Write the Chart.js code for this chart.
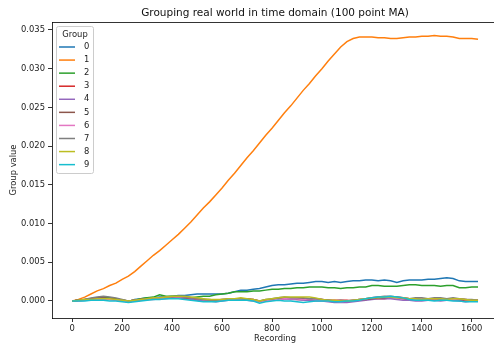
<!DOCTYPE html>
<html>
<head>
<meta charset="utf-8">
<script src="https://cdn.jsdelivr.net/npm/chart.js@4.4.1/dist/chart.umd.min.js"></script>
<style>
  html, body { margin: 0; padding: 0; overflow: hidden; background: #fff; }
  #wrap { width: 512px; height: 347px; }
</style>
</head>
<body>
<div id="wrap"><canvas id="chart" width="512" height="347"></canvas></div>
<script>
// x positions (recording index), sampled every 25
var recording = [
  0, 25, 50, 75, 100, 125, 150, 175, 200, 225, 250,
  275, 300, 325, 350, 375, 400, 425, 450, 475, 500, 525,
  550, 575, 600, 625, 650, 675, 700, 725, 750, 775, 800,
  825, 850, 875, 900, 925, 950, 975, 1000, 1025, 1050, 1075,
  1100, 1125, 1150, 1175, 1200, 1225, 1250, 1275, 1300, 1325, 1350,
  1375, 1400, 1425, 1450, 1475, 1500, 1525, 1550, 1575, 1600, 1625
];

var groupLabels = ['0', '1', '2', '3', '4', '5', '6', '7', '8', '9'];
var groupColors = ['#1f77b4', '#ff7f0e', '#2ca02c', '#d62728', '#9467bd', '#8c564b', '#e377c2', '#7f7f7f', '#bcbd22', '#17becf'];

var g0 = [
  0, 0.0001, 0.0001, 0.0002, 0.0003, 0.0004, 0.0003, 0.0002, 0.0001, -0.0001, 0.0002,
  0.0003, 0.0004, 0.0004, 0.0005, 0.0005, 0.0006, 0.0007, 0.0007, 0.0008, 0.0009, 0.0009,
  0.0009, 0.0009, 0.0009, 0.0010, 0.0012, 0.0014, 0.0014, 0.0015, 0.0016, 0.0018, 0.0020,
  0.0021, 0.0021, 0.0022, 0.0023, 0.0023, 0.0024, 0.0025, 0.0025, 0.0024, 0.0025, 0.0024,
  0.0025, 0.0026, 0.0026, 0.0027, 0.0027, 0.0026, 0.0027, 0.0026, 0.0024, 0.0026, 0.0027,
  0.0027, 0.0027, 0.0028, 0.0028, 0.0029, 0.0030, 0.0029, 0.0026, 0.0025, 0.0025, 0.0025
];
var g1 = [
  0, 0.0002, 0.0005, 0.0009, 0.0013, 0.0016, 0.0020, 0.0023, 0.0028, 0.0032, 0.0038,
  0.0045, 0.0052, 0.0059, 0.0065, 0.0072, 0.0079, 0.0086, 0.0094, 0.0102, 0.0111, 0.0120,
  0.0128, 0.0137, 0.0146, 0.0156, 0.0165, 0.0175, 0.0185, 0.0194, 0.0204, 0.0214, 0.0223,
  0.0233, 0.0243, 0.0252, 0.0262, 0.0272, 0.0281, 0.0291, 0.0300, 0.0310, 0.0319, 0.0328,
  0.0335, 0.0339, 0.0341, 0.0341, 0.0341, 0.0340, 0.0340, 0.0339, 0.0339, 0.0340, 0.0341,
  0.0341, 0.0342, 0.0342, 0.0343, 0.0342, 0.0342, 0.0341, 0.0339, 0.0339, 0.0339, 0.0338
];
var g2 = [
  0, 0.0001, 0.0002, 0.0003, 0.0004, 0.0005, 0.0004, 0.0003, 0.0001, 0.0000, 0.0001,
  0.0003, 0.0004, 0.0005, 0.0008, 0.0006, 0.0006, 0.0006, 0.0005, 0.0004, 0.0005, 0.0006,
  0.0006, 0.0008, 0.0009, 0.0010, 0.0012, 0.0012, 0.0012, 0.0013, 0.0013, 0.0014, 0.0015,
  0.0015, 0.0016, 0.0016, 0.0017, 0.0017, 0.0018, 0.0018, 0.0018, 0.0017, 0.0017, 0.0016,
  0.0017, 0.0017, 0.0018, 0.0018, 0.0020, 0.0020, 0.0019, 0.0019, 0.0019, 0.0020, 0.0021,
  0.0021, 0.0020, 0.0020, 0.0020, 0.0019, 0.0020, 0.0020, 0.0017, 0.0017, 0.0018, 0.0018
];
var g3 = [
  0, 0.0001, 0.0001, 0.0002, 0.0003, 0.0003, 0.0003, 0.0002, 0.0001, 0.0000, 0.0001,
  0.0002, 0.0002, 0.0003, 0.0004, 0.0004, 0.0004, 0.0005, 0.0004, 0.0003, 0.0002, 0.0002,
  0.0001, 0.0001, 0.0001, 0.0002, 0.0003, 0.0003, 0.0003, 0.0002, 0.0000, 0.0001, 0.0002,
  0.0002, 0.0003, 0.0003, 0.0002, 0.0002, 0.0002, 0.0002, 0.0002, 0.0001, 0.0001, 0.0001,
  0.0001, 0.0000, 0.0001, 0.0002, 0.0003, 0.0003, 0.0003, 0.0004, 0.0004, 0.0003, 0.0002,
  0.0002, 0.0002, 0.0002, 0.0001, 0.0001, 0.0002, 0.0002, 0.0001, 0.0000, 0.0000, 0.0001
];
var g4 = [
  0, 0.0000, 0.0001, 0.0001, 0.0002, 0.0003, 0.0002, 0.0001, 0.0000, -0.0001, 0.0000,
  0.0001, 0.0002, 0.0002, 0.0003, 0.0003, 0.0004, 0.0004, 0.0003, 0.0002, 0.0001, 0.0000,
  0.0000, -0.0001, 0.0000, 0.0001, 0.0001, 0.0002, 0.0001, 0.0000, -0.0001, 0.0000, 0.0001,
  0.0002, 0.0003, 0.0002, 0.0002, 0.0001, 0.0001, 0.0000, 0.0000, -0.0001, -0.0002, -0.0002,
  -0.0002, -0.0001, 0.0000, 0.0001, 0.0002, 0.0003, 0.0003, 0.0003, 0.0002, 0.0001, 0.0001,
  0.0000, 0.0000, 0.0001, 0.0001, 0.0000, 0.0001, 0.0001, 0.0000, -0.0001, 0.0000, 0.0000
];
var g5 = [
  0, 0.0001, 0.0002, 0.0003, 0.0004, 0.0004, 0.0003, 0.0002, 0.0001, 0.0000, 0.0001,
  0.0002, 0.0003, 0.0003, 0.0004, 0.0004, 0.0005, 0.0005, 0.0004, 0.0004, 0.0003, 0.0002,
  0.0002, 0.0001, 0.0002, 0.0002, 0.0002, 0.0003, 0.0003, 0.0001, 0.0000, 0.0001, 0.0002,
  0.0003, 0.0004, 0.0004, 0.0003, 0.0003, 0.0003, 0.0003, 0.0002, 0.0001, 0.0000, 0.0000,
  0.0000, 0.0001, 0.0002, 0.0002, 0.0003, 0.0004, 0.0004, 0.0005, 0.0005, 0.0004, 0.0003,
  0.0003, 0.0002, 0.0003, 0.0003, 0.0002, 0.0002, 0.0003, 0.0003, 0.0002, 0.0001, 0.0001
];
var g6 = [
  0, 0.0000, 0.0001, 0.0002, 0.0002, 0.0003, 0.0002, 0.0001, 0.0000, -0.0001, 0.0000,
  0.0001, 0.0002, 0.0003, 0.0003, 0.0004, 0.0005, 0.0005, 0.0005, 0.0004, 0.0003, 0.0002,
  0.0001, 0.0000, 0.0001, 0.0002, 0.0002, 0.0002, 0.0001, 0.0001, -0.0001, 0.0000, 0.0001,
  0.0002, 0.0003, 0.0003, 0.0003, 0.0002, 0.0003, 0.0002, 0.0001, 0.0000, 0.0000, -0.0001,
  0.0000, 0.0001, 0.0002, 0.0003, 0.0004, 0.0005, 0.0005, 0.0005, 0.0004, 0.0004, 0.0003,
  0.0002, 0.0002, 0.0003, 0.0003, 0.0003, 0.0002, 0.0002, 0.0003, 0.0002, 0.0001, 0.0001
];
var g7 = [
  0, 0.0001, 0.0002, 0.0004, 0.0005, 0.0006, 0.0005, 0.0004, 0.0002, 0.0000, 0.0001,
  0.0002, 0.0003, 0.0004, 0.0004, 0.0005, 0.0005, 0.0006, 0.0005, 0.0004, 0.0003, 0.0002,
  0.0001, 0.0001, 0.0002, 0.0003, 0.0003, 0.0003, 0.0002, 0.0002, 0.0000, 0.0002, 0.0003,
  0.0004, 0.0005, 0.0004, 0.0004, 0.0004, 0.0003, 0.0003, 0.0002, 0.0001, 0.0000, 0.0001,
  0.0000, 0.0001, 0.0002, 0.0003, 0.0004, 0.0005, 0.0006, 0.0006, 0.0005, 0.0004, 0.0003,
  0.0004, 0.0004, 0.0003, 0.0004, 0.0004, 0.0003, 0.0004, 0.0003, 0.0002, 0.0002, 0.0001
];
var g8 = [
  0, 0.0001, 0.0002, 0.0002, 0.0003, 0.0003, 0.0003, 0.0002, 0.0001, 0.0000, 0.0001,
  0.0002, 0.0003, 0.0004, 0.0004, 0.0005, 0.0006, 0.0006, 0.0006, 0.0005, 0.0004, 0.0003,
  0.0002, 0.0002, 0.0002, 0.0003, 0.0003, 0.0004, 0.0003, 0.0002, 0.0000, 0.0002, 0.0003,
  0.0004, 0.0005, 0.0005, 0.0005, 0.0005, 0.0005, 0.0004, 0.0002, 0.0001, 0.0001, 0.0000,
  0.0000, 0.0001, 0.0002, 0.0003, 0.0004, 0.0004, 0.0005, 0.0005, 0.0004, 0.0004, 0.0003,
  0.0003, 0.0002, 0.0003, 0.0003, 0.0003, 0.0002, 0.0003, 0.0003, 0.0002, 0.0001, 0.0001
];
var g9 = [
  0, 0.0000, 0.0000, 0.0001, 0.0001, 0.0001, 0.0000, 0.0000, -0.0001, -0.0002, -0.0001,
  0.0000, 0.0001, 0.0002, 0.0002, 0.0003, 0.0003, 0.0003, 0.0002, 0.0001, 0.0000, -0.0001,
  -0.0001, -0.0001, 0.0000, 0.0001, 0.0001, 0.0001, 0.0001, 0.0000, -0.0003, -0.0001, 0.0000,
  0.0001, 0.0000, 0.0000, -0.0001, -0.0002, -0.0001, 0.0000, 0.0000, 0.0000, -0.0001, -0.0001,
  0.0000, 0.0000, 0.0001, 0.0003, 0.0004, 0.0005, 0.0005, 0.0006, 0.0005, 0.0004, 0.0002,
  0.0001, 0.0001, 0.0001, 0.0000, 0.0001, 0.0001, 0.0000, 0.0000, -0.0001, -0.0001, -0.0001
];
var groups = [g0, g1, g2, g3, g4, g5, g6, g7, g8, g9];

var xTicks = [0, 200, 400, 600, 800, 1000, 1200, 1400, 1600];
var yTicks = [0, 0.005, 0.010, 0.015, 0.020, 0.025, 0.030, 0.035];

var font = 'DejaVu Sans';

// top/right spines + matplotlib-style legend box in the upper left
var frameAndLegend = {
  id: 'frameAndLegend',
  afterDatasetsDraw: function(chart) {
    var ctx = chart.ctx, a = chart.chartArea;
    ctx.save();
    ctx.strokeStyle = '#000';
    ctx.lineWidth = 0.8;
    ctx.beginPath();
    ctx.moveTo(a.left, a.top + 0.5);
    ctx.lineTo(a.right, a.top + 0.5);
    ctx.lineTo(a.right, a.bottom);
    ctx.stroke();

    var x0 = a.left + 4, y0 = a.top + 4, w = 37, h = 147;
    ctx.fillStyle = 'rgba(255,255,255,0.8)';
    ctx.strokeStyle = '#cccccc';
    ctx.lineWidth = 1;
    ctx.beginPath();
    ctx.roundRect(x0 + 0.5, y0 + 0.5, w, h, 2);
    ctx.fill();
    ctx.stroke();

    ctx.font = '8.4px "' + font + '"';
    ctx.fillStyle = '#222';
    ctx.textBaseline = 'middle';
    ctx.textAlign = 'center';
    ctx.fillText('Group', x0 + w / 2 + 0.5, y0 + 8.5);
    ctx.textAlign = 'left';
    chart.data.datasets.forEach(function(ds, i) {
      var y = y0 + 21 + i * 13.07;
      ctx.strokeStyle = ds.borderColor;
      ctx.lineWidth = 1.5;
      ctx.beginPath();
      ctx.moveTo(x0 + 3, y);
      ctx.lineTo(x0 + 19, y);
      ctx.stroke();
      ctx.fillText(ds.label, x0 + 28, y);
    });
    ctx.restore();
  }
};

var datasets = groups.map(function(vals, i) {
  return {
    label: groupLabels[i],
    data: vals.map(function(v, j) { return { x: recording[j], y: v }; }),
    borderColor: groupColors[i],
    backgroundColor: groupColors[i],
    borderWidth: 1.5,
    pointRadius: 0,
    tension: 0,
    fill: false,
    order: 9 - i
  };
});

new Chart(document.getElementById('chart').getContext('2d'), {
  type: 'line',
  data: { datasets: datasets },
  options: {
    responsive: false,
    animation: false,
    layout: { padding: { left: 0, right: 14, top: 7, bottom: 0 } },
    plugins: {
      legend: { display: false },
      tooltip: { enabled: false },
      title: {
        display: true, fullSize: false,
        text: 'Grouping real world in time domain (100 point MA)',
        color: '#111',
        font: { family: font, size: 10.5, weight: 'normal' },
        padding: { top: 0, bottom: 2.4 }
      }
    },
    scales: {
      x: {
        type: 'linear', min: -81, max: 1705,
        afterBuildTicks: function(s) { s.ticks = xTicks.map(function(v) { return { value: v }; }); },
        afterFit: function(s) { s.height = 29; },
        grid: { drawOnChartArea: false, drawTicks: true, tickLength: 4, tickColor: '#000', tickWidth: 0.8 },
        border: { color: '#000', width: 0.8 },
        ticks: { color: '#222', padding: 2, maxRotation: 0, font: { family: font, size: 8.4 },
          callback: function(v) { return String(v); } },
        title: { display: true, text: 'Recording', color: '#222', font: { family: font, size: 8.4 }, padding: { top: 0, bottom: 3 } }
      },
      y: {
        type: 'linear', min: -0.0022, max: 0.03603,
        afterBuildTicks: function(s) { s.ticks = yTicks.map(function(v) { return { value: v }; }); },
        afterFit: function(s) { s.width = 52; },
        grid: { drawOnChartArea: false, drawTicks: true, tickLength: 4, tickColor: '#000', tickWidth: 0.8 },
        border: { color: '#000', width: 0.8 },
        ticks: { color: '#222', padding: 3, font: { family: font, size: 8.4 },
          callback: function(v) { return v.toFixed(3); } },
        title: { display: true, text: 'Group value', color: '#222', font: { family: font, size: 8.4 }, padding: { top: 9, bottom: 0 } }
      }
    }
  },
  plugins: [frameAndLegend]
});
</script>
</body>
</html>
